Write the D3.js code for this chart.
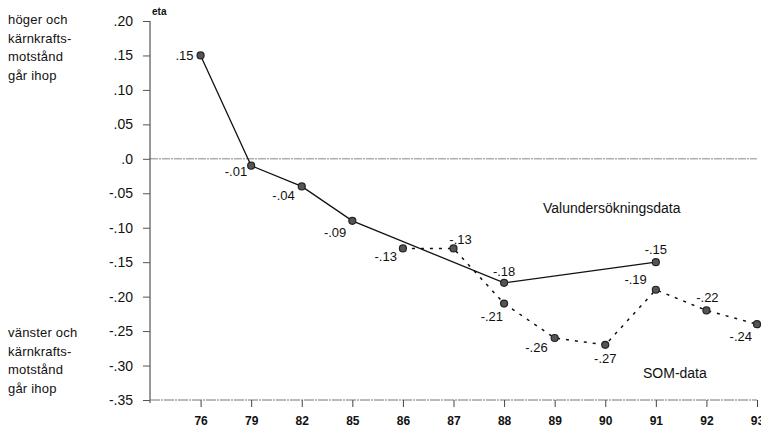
<!DOCTYPE html>
<meta charset='utf-8'>
<head>
    <title>eta</title>
    <script src='https://cdn.jsdelivr.net/npm/d3@7'></script>
</head>

<style>
    body { margin: 0; background: white; }
    text { font-family: 'Liberation Sans', Arial, sans-serif; fill: #111; }
    .ylab { font-size: 14px; }
    .xlab { font-size: 12px; font-weight: bold; }
    .side { font-size: 13px; letter-spacing: 0.2px; }
    .val { font-size: 13px; }
    .series { font-size: 14px; }
    path.line { fill: none; stroke: #111; }
    circle { fill: #555; stroke: #222; stroke-width: 1.2px; }
</style>

<svg>
    <g></g>
</svg>

<script>
    var vWidth = 761;
    var vHeight = 429;

    // years on the x axis (equally spaced categories)
    var vYears = ['76', '79', '82', '85', '86', '87', '88', '89', '90', '91', '92', '93'];
    var vYTicks = [0.20, 0.15, 0.10, 0.05, 0.0, -0.05, -0.10, -0.15, -0.20, -0.25, -0.30, -0.35];
    var vYTickLabels = ['.20', '.15', '.10', '.05', '.0', '-.05', '-.10', '-.15', '-.20', '-.25', '-.30', '-.35'];

    // Valundersökningsdata (solid)
    var vValYears = ['76', '79', '82', '85', '88', '91'];
    var vValValues = [0.15, -0.01, -0.04, -0.09, -0.18, -0.15];
    var vValLabels = ['.15', '-.01', '-.04', '-.09', '-.18', '-.15'];

    // SOM-data (dotted)
    var vSomYears = ['86', '87', '88', '89', '90', '91', '92', '93'];
    var vSomValues = [-0.13, -0.13, -0.21, -0.26, -0.27, -0.19, -0.22, -0.24];
    var vSomLabels = ['-.13', '-.13', '-.21', '-.26', '-.27', '-.19', '-.22', '-.24'];

    // label offsets relative to the points [dx, dy, anchor]
    var vValOffsets = [[-7, 5, 'end'], [-4, 10, 'end'], [-7, 14, 'end'], [-6, 16, 'end'], [0, -7, 'middle'], [0, -8, 'middle']];
    var vSomOffsets = [[-6, 13, 'end'], [7, -4, 'middle'], [-1, 17, 'end'], [-7, 14, 'end'], [0, 18, 'middle'], [-9, -6, 'end'], [1, -8, 'middle'], [-5, 17, 'end']];

    var svg = d3.select('svg').attr('width', vWidth).attr('height', vHeight);
    var g = svg.select('g');

    // index scale: one empty step left of 76, last year at the right edge
    var x = d3.scaleLinear().domain([-1, vYears.length - 1]).range([150, 757]);
    var y = d3.scaleLinear().domain([0.20, -0.35]).range([21, 400]);
    function xi(yr) { return x(vYears.indexOf(yr)); }

    // zero line
    g.append('line')
        .attr('x1', 150).attr('x2', 757)
        .attr('y1', y(0)).attr('y2', y(0))
        .attr('stroke', '#888').attr('stroke-width', 1)
        .attr('stroke-dasharray', '8,1,2,1');

    // y axis
    var yAxis = d3.axisLeft(y).tickValues(vYTicks).tickSize(7)
        .tickFormat(function(d, i) { return vYTickLabels[i]; });
    var gy = g.append('g').attr('transform', 'translate(150,0)').call(yAxis);
    gy.select('.domain').attr('stroke', '#333').attr('d', 'M0,21V403');
    gy.selectAll('.tick line').attr('stroke', '#555');
    gy.selectAll('.tick text').attr('class', 'ylab').attr('x', -17).attr('font-family', null).attr('font-size', null);

    // x axis
    var xAxis = d3.axisBottom(x).tickValues(d3.range(vYears.length)).tickSize(7)
        .tickFormat(function(d) { return vYears[d]; });
    var gx = g.append('g').attr('transform', 'translate(0,400)').call(xAxis);
    gx.select('.domain').attr('stroke', '#777').attr('stroke-dasharray', '10,1,2,1').attr('d', 'M150,0H757');
    gx.selectAll('.tick line').attr('stroke', '#444');
    gx.selectAll('.tick text').attr('class', 'xlab').attr('y', 16).attr('font-family', null).attr('font-size', null);

    // lines
    var line = d3.line().x(function(d) { return xi(d[0]); }).y(function(d) { return y(d[1]); });
    var vValPts = vValYears.map(function(d, i) { return [d, vValValues[i]]; });
    var vSomPts = vSomYears.map(function(d, i) { return [d, vSomValues[i]]; });

    g.append('path').attr('class', 'line').attr('d', line(vSomPts))
        .attr('stroke-width', 1.5).attr('stroke-dasharray', '3,6');
    g.append('path').attr('class', 'line').attr('d', line(vValPts))
        .attr('stroke-width', 1.3);

    g.selectAll('circle.som').data(vSomPts).enter().append('circle')
        .attr('r', 3.5)
        .attr('cx', function(d) { return xi(d[0]); })
        .attr('cy', function(d) { return y(d[1]); });
    g.selectAll('circle.val').data(vValPts).enter().append('circle')
        .attr('r', 3.5)
        .attr('cx', function(d) { return xi(d[0]); })
        .attr('cy', function(d) { return y(d[1]); });

    // value labels
    function addLabels(pts, labels, offs) {
        pts.forEach(function(d, i) {
            g.append('text').attr('class', 'val')
                .attr('x', xi(d[0]) + offs[i][0])
                .attr('y', y(d[1]) + offs[i][1])
                .attr('text-anchor', offs[i][2])
                .text(labels[i]);
        });
    }
    addLabels(vValPts, vValLabels, vValOffsets);
    addLabels(vSomPts, vSomLabels, vSomOffsets);

    // series names
    g.append('text').attr('class', 'series').attr('x', 543).attr('y', 213).text('Valundersökningsdata');
    g.append('text').attr('class', 'series').attr('x', 643).attr('y', 378).text('SOM-data');

    // axis title
    g.append('text').attr('x', 152).attr('y', 15).attr('font-size', 10).attr('font-weight', 'bold').text('eta');

    // side notes
    var vTop = ['höger och', 'kärnkrafts-', 'motstånd', 'går ihop'];
    var vBottom = ['vänster och', 'kärnkrafts-', 'motstånd', 'går ihop'];
    g.selectAll('text.top').data(vTop).enter().append('text').attr('class', 'side')
        .attr('x', 8).attr('y', function(d, i) { return 24 + i * 18.7; }).text(function(d) { return d; });
    g.selectAll('text.bot').data(vBottom).enter().append('text').attr('class', 'side')
        .attr('x', 8).attr('y', function(d, i) { return 337 + i * 18.7; }).text(function(d) { return d; });
</script>
